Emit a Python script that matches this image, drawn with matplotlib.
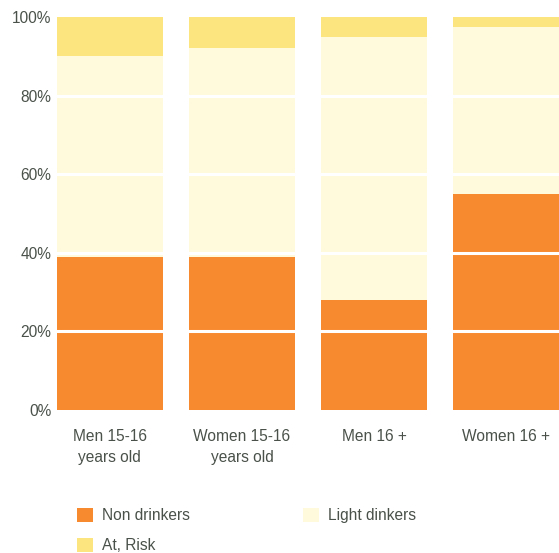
import matplotlib.pyplot as plt
import numpy as np

plt.rcParams['font.family'] = ['Liberation Sans', 'DejaVu Sans']

# 数据
categories = ['Men 15-16\nyears old', 'Women 15-16\nyears old', 'Men 16 +', 'Women 16 +']
non_drinkers = [39, 39, 28, 55]
light_drinkers = [51, 53, 67, 42.5]
at_risk = [10, 8, 5, 2.5]
y_ticks = [0, 20, 40, 60, 80, 100]
y_labels = ['0%', '20%', '40%', '60%', '80%', '100%']

c_non = '#F7892F'
c_light = '#FFFADB'
c_risk = '#FCE47F'
c_text = '#4a514a'

fig = plt.figure(figsize=(5.59, 5.53), dpi=100)
ax = fig.add_axes([57 / 559, 1 - 410 / 553, 1 - 57 / 559, (410 - 17) / 553])

x = np.arange(len(categories))
w = 0.8
b1 = ax.bar(x, non_drinkers, w, color=c_non, label='Non drinkers', zorder=1)
bottom2 = np.array(non_drinkers)
b2 = ax.bar(x, light_drinkers, w, bottom=bottom2, color=c_light, label='Light dinkers', zorder=1)
bottom3 = bottom2 + np.array(light_drinkers)
b3 = ax.bar(x, at_risk, w, bottom=bottom3, color=c_risk, label='At, Risk', zorder=1)

# 白色网格线压在柱子上
for yv in y_ticks[1:-1]:
    ax.axhline(yv, color='white', linewidth=2.2, zorder=3)

ax.set_xlim(-0.4, 3.4)
ax.set_ylim(0, 100)
ax.set_yticks(y_ticks)
ax.set_yticklabels(y_labels, fontsize=11.2, color=c_text)
ax.set_xticks(x)
ax.set_xticklabels(categories, fontsize=11.2, color=c_text, linespacing=1.45)
ax.tick_params(axis='both', length=0)
ax.tick_params(axis='y', pad=4)
ax.tick_params(axis='x', pad=14)
for s in ax.spines.values():
    s.set_visible(False)

# 图例
leg = fig.legend([b1, b3, b2], ['Non drinkers', 'At, Risk', 'Light dinkers'],
                 ncol=2, loc='upper left', bbox_to_anchor=(77 / 559, 1 - 508 / 553),
                 frameon=False, fontsize=11.2, handlelength=1.0, handleheight=1.0,
                 handletextpad=0.6, columnspacing=7.3, labelspacing=0.95, borderpad=0,
                 borderaxespad=0)
for t in leg.get_texts():
    t.set_color(c_text)

fig.savefig('out.png', dpi=100)
